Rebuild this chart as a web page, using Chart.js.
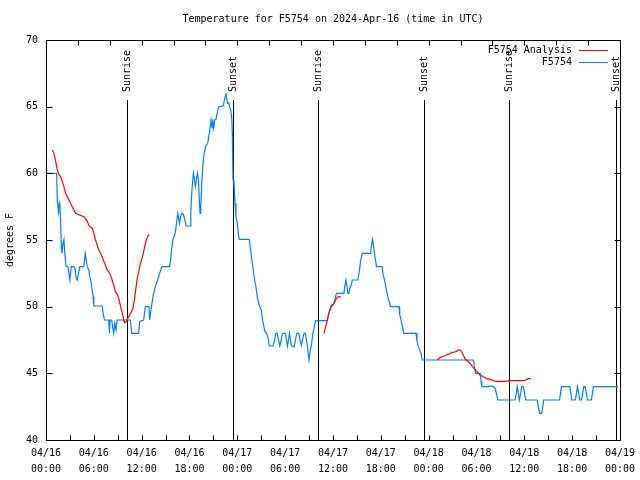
<!DOCTYPE html>
<html>
<head>
<meta charset="utf-8">
<title>Temperature for F5754</title>
<script src="https://cdn.jsdelivr.net/npm/chart.js"></script>
<style>
  body { margin: 0; background: #fff; }
  #wrap { width: 640px; height: 480px; }
</style>
</head>
<body>
<div id="wrap"><canvas id="tempChart" width="640" height="480"></canvas></div>
<script>
/* 데이터 (시간 = 2024-04-16 00:00 UTC 기준 경과 시간) */
const chartTitle = 'Temperature for F5754 on 2024-Apr-16 (time in UTC)';
const yTitle = 'degrees F';
const xStart = 0, xEnd = 72;
const yTickValues = [40, 45, 50, 55, 60, 65, 70];
const dayLabels = ['04/16', '04/17', '04/18', '04/19'];

// 관측값 F5754
const obsHours = [0.0, 1.33, 1.42, 1.58, 1.67, 1.75, 1.83, 1.92, 2.0, 2.125, 2.25, 2.33, 2.5, 2.75, 2.875, 3.0, 3.17, 3.5, 3.67, 3.79, 3.92, 4.08, 4.25, 4.75, 4.92, 5.04, 5.17, 5.375, 5.5, 5.67, 5.79, 5.92, 6.0, 7.04, 7.17, 7.33, 7.875, 7.96, 8.04, 8.25, 8.375, 8.5, 8.625, 8.79, 8.92, 10.58, 10.75, 11.625, 11.75, 12.25, 12.46, 12.92, 13.0, 13.17, 13.42, 13.71, 14.0, 14.25, 14.54, 15.5,
  15.625, 15.75, 15.92, 16.21, 16.42, 16.54, 16.75, 16.875, 17.04, 17.25, 17.42, 17.58, 18.08, 18.17, 18.25, 18.375, 18.5, 18.625, 18.75, 18.875, 19.0, 19.125, 19.25, 19.33, 19.42, 19.54, 19.67, 19.79, 19.92, 20.08, 20.29, 20.42, 20.54, 20.71, 20.83, 20.92, 21.04, 21.17, 21.33, 21.46, 21.67, 22.25, 22.375, 22.5, 22.58, 22.67, 22.79, 22.92, 23.04, 23.17, 23.29, 23.375, 23.42, 23.46, 23.58, 23.71, 23.83, 24.0, 24.125, 24.25, 25.5, 25.67, 25.83, 26.0, 26.17, 26.33, 26.5, 26.67, 26.83, 27.0, 27.17, 27.33, 27.5, 27.67, 27.83, 28.0, 28.5, 28.67, 28.83, 29.0, 29.17, 29.33, 29.5, 29.67, 30.0, 30.17, 30.29, 30.42, 30.54, 30.67, 30.79,
  31.125, 31.29, 31.46, 31.71, 31.875, 32.04, 32.21, 32.375, 32.54, 32.71, 32.875, 33.0, 33.125, 33.29, 33.46, 33.625, 33.83, 35.29, 35.46, 35.625, 35.79, 36.04, 36.21, 36.375, 36.46, 37.375, 37.5, 37.625, 37.75, 37.875, 38.0, 38.125, 38.29, 38.42, 39.125, 39.29, 39.46, 39.67, 40.71, 40.83, 40.96, 41.08, 41.21, 41.33, 41.46, 42.17, 42.29, 42.46, 42.625, 42.79, 43.0, 43.21, 44.29, 44.375, 44.54, 44.71, 44.875, 46.42, 46.54, 46.71, 46.875, 47.04, 47.21,
  53.625, 53.75, 53.92, 54.46, 54.58, 54.67, 55.5, 55.67, 56.125, 56.33, 56.5, 56.67, 58.83, 59.0, 59.125, 59.25, 59.375, 59.54, 59.67, 59.875, 60.04, 60.17, 61.625, 61.75, 61.92, 62.17, 62.33, 62.42, 64.42, 64.54, 64.67, 65.71, 65.83, 65.96, 66.42, 66.54, 66.67, 66.83, 66.96, 67.17, 67.33, 67.46, 67.625, 67.79, 67.92, 68.42, 68.54, 68.67, 71.75];
const obsTemps = [60.0, 60.0, 57.9, 57.1, 57.75, 57.5, 56.6, 54.5, 54.0, 54.75, 55.05, 54.25, 53.05, 53.0, 52.5, 52.0, 53.0, 53.0, 52.75, 52.1, 52.0, 52.5, 53.0, 53.0, 54.0, 53.5, 53.0, 52.75, 52.25, 51.75, 51.25, 50.75, 50.05, 50.05, 49.5, 49.0, 49.0, 48.0, 49.0, 49.0, 48.4, 48.0, 48.75, 48.25, 49.0, 49.0, 48.0, 48.0, 48.9, 49.0, 50.0, 50.0, 49.0, 49.75, 50.75, 51.5, 52.0, 52.5, 53.0, 53.0,
  53.5, 54.25, 55.0, 55.5, 56.5, 57.0, 56.25, 56.75, 57.0, 56.9, 56.5, 56.05, 56.05, 57.0, 58.25, 59.25, 60.0, 59.5, 59.0, 59.6, 60.0, 59.5, 57.75, 57.0, 57.5, 59.25, 60.5, 61.25, 61.75, 62.1, 62.25, 62.75, 63.25, 64.0, 63.4, 64.05, 63.4, 64.0, 64.05, 64.5, 65.0, 65.05, 65.5, 65.8, 66.05, 65.6, 65.25, 65.3, 65.0, 64.75, 64.25, 63.1, 61.0, 59.5, 59.25, 57.75, 56.75, 56.25, 55.5, 55.05, 55.05, 54.25, 53.5, 52.75, 52.0, 51.5, 50.75, 50.25, 50.0, 49.75, 49.0, 48.5, 48.1, 48.0, 47.75, 47.05, 47.05, 47.5, 48.0, 48.0, 47.5, 47.05, 47.5, 48.0, 48.0, 47.5, 47.05, 47.5, 48.0, 47.5, 47.05,
  47.0, 47.5, 48.0, 48.0, 47.5, 47.1, 47.6, 48.0, 48.0, 47.4, 46.6, 46.0, 46.6, 47.1, 47.9, 48.4, 48.95, 48.95, 49.4, 49.8, 50.1, 50.15, 50.4, 50.9, 51.0, 51.0, 51.6, 52.0, 51.5, 51.0, 51.0, 51.4, 51.6, 52.0, 52.0, 52.6, 53.4, 54.0, 54.0, 54.6, 55.05, 54.6, 54.0, 53.5, 53.0, 53.0, 52.4, 52.0, 51.5, 51.0, 50.5, 50.0, 50.0, 49.4, 49.0, 48.5, 48.0, 48.0, 47.4, 47.0, 46.75, 46.5, 46.0,
  46.0, 45.5, 45.0, 45.0, 44.4, 44.0, 44.0, 44.05, 44.0, 43.9, 43.5, 43.0, 43.0, 43.5, 44.0, 43.5, 43.0, 43.5, 44.0, 44.0, 43.5, 43.0, 43.0, 42.5, 42.0, 42.0, 42.5, 43.0, 43.0, 43.5, 44.0, 44.0, 43.5, 43.0, 43.0, 43.5, 44.0, 43.5, 43.0, 43.0, 43.5, 44.0, 44.0, 43.5, 43.0, 43.0, 43.5, 44.0, 44.0];

// 분석값 F5754 Analysis (null = 끊김)
const anaHours = [0.79, 1.0, 1.21, 1.42, 1.625, 1.83, 2.04, 2.25, 2.46, 2.67, 2.875, 3.08, 3.29, 3.5, 3.71, 3.92, 4.33, 4.75, 4.96, 5.17, 5.375, 5.58, 5.79, 6.0, 6.21, 6.42, 6.625, 6.83, 7.04, 7.25, 7.46, 7.67, 7.875, 8.08, 8.29, 8.5, 8.71, 8.92, 9.125, 9.33, 9.54, 9.75, 9.875, 10.08, 10.25, 10.5, 10.71, 10.92, 11.08, 11.25, 11.42, 11.625, 11.83, 12.04, 12.17, 12.375, 12.58, 12.79, 12.96,
  20.0,
  34.875, 35.08, 35.29, 35.46, 35.625, 35.79, 35.96, 36.125, 36.33, 36.54, 36.75, 36.96,
  42.0,
  49.04, 49.25, 49.46, 49.75, 50.0, 50.3, 50.6, 50.9, 51.25, 51.5, 51.75, 52.0, 52.2, 52.4, 52.6, 52.9, 53.2, 53.5, 53.8, 54.1, 54.4, 54.7, 55.0, 55.3, 55.7, 56.1, 56.5, 57.5, 58.2, 59.0, 59.9, 60.2, 60.5, 60.83];
const anaTemps = [61.75, 61.5, 60.9, 60.25, 59.9, 59.75, 59.4, 59.0, 58.5, 58.25, 58.0, 57.75, 57.5, 57.25, 57.0, 56.95, 56.85, 56.75, 56.6, 56.4, 56.1, 55.95, 55.9, 55.5, 55.0, 54.6, 54.25, 54.0, 53.75, 53.4, 53.1, 52.75, 52.6, 52.4, 52.0, 51.6, 51.1, 50.95, 50.6, 50.1, 49.6, 49.0, 48.8, 48.9, 49.1, 49.4, 49.6, 49.9, 50.5, 51.25, 52.0, 52.6, 53.25, 53.6, 53.9, 54.5, 55.0, 55.3, 55.4,
  null,
  48.0, 48.5, 49.0, 49.5, 49.75, 50.0, 50.1, 50.25, 50.5, 50.7, 50.75, 50.75,
  null,
  46.0, 46.1, 46.2, 46.25, 46.3, 46.4, 46.45, 46.55, 46.6, 46.65, 46.75, 46.75, 46.55, 46.3, 46.05, 45.9, 45.75, 45.5, 45.3, 45.1, 44.9, 44.8, 44.7, 44.6, 44.55, 44.45, 44.4, 44.4, 44.45, 44.45, 44.45, 44.5, 44.6, 44.6];

// 일출/일몰
const sunHours = [10.16, 23.41, 34.14, 47.43, 58.12, 71.45];
const sunLabels = ['Sunrise', 'Sunset', 'Sunrise', 'Sunset', 'Sunrise', 'Sunset'];

const FONT = '"DejaVu Sans Mono", "Liberation Mono", monospace';

function toPoints(xs, ys) {
  let pts = [];
  for (var i = 0; i < xs.length; i++) {
    pts.push({ x: xs[i], y: ys[i] });
  }
  return pts;
}

function px(v) { return Math.round(v) + 0.5; }

/* gnuplot 스타일 제목, 테두리, 안쪽 눈금, 일출/일몰선, 범례 */
const gnuplotDecor = {
  id: 'gnuplotDecor',
  beforeDatasetsDraw(chart) {
    const { ctx, chartArea: a, scales: { x } } = chart;
    ctx.save();
    ctx.strokeStyle = '#000';
    ctx.lineWidth = 1;
    ctx.fillStyle = '#000';
    ctx.font = '10px ' + FONT;

    // 제목 (플롯 영역 가운데)
    ctx.textAlign = 'center';
    ctx.textBaseline = 'middle';
    ctx.fillText(chartTitle, (a.left + a.right) / 2, a.top - 21);

    sunHours.forEach((h, i) => {
      const sx = px(x.getPixelForValue(h));
      ctx.beginPath();
      ctx.moveTo(sx, a.top + 60);
      ctx.lineTo(sx, a.bottom);
      ctx.stroke();
      ctx.save();
      ctx.translate(sx, a.top + 52);
      ctx.rotate(-Math.PI / 2);
      ctx.textAlign = 'left';
      ctx.textBaseline = 'middle';
      ctx.fillText(sunLabels[i], 0, 0);
      ctx.restore();
    });
    ctx.restore();
  },
  afterDraw(chart) {
    const { ctx, chartArea: a, scales: { x, y } } = chart;
    const L = px(a.left), R = px(a.right), T = px(a.top), B = px(a.bottom);
    ctx.save();
    ctx.strokeStyle = '#000';
    ctx.lineWidth = 1;
    ctx.strokeRect(L, T, R - L, B - T);

    ctx.beginPath();
    // 아래 눈금 (3시간), 위 눈금 (4시간)
    for (let h = xStart; h <= xEnd; h += 3) {
      const tx = px(x.getPixelForValue(h));
      ctx.moveTo(tx, B); ctx.lineTo(tx, B - 5);
    }
    for (let h = xStart; h <= xEnd; h += 4) {
      const tx = px(x.getPixelForValue(h));
      ctx.moveTo(tx, T); ctx.lineTo(tx, T + 5);
    }
    yTickValues.forEach(v => {
      const ty = px(y.getPixelForValue(v));
      ctx.moveTo(L, ty); ctx.lineTo(L + 6, ty);
      ctx.moveTo(R, ty); ctx.lineTo(R - 6, ty);
    });
    ctx.stroke();

    // 범례
    ctx.font = '10px ' + FONT;
    ctx.fillStyle = '#000';
    ctx.textAlign = 'right';
    ctx.textBaseline = 'middle';
    chart.data.datasets.forEach((ds, i) => {
      const ly = a.top + 10 + i * 12;
      ctx.fillText(ds.label, a.right - 48, ly);
      ctx.strokeStyle = ds.borderColor;
      ctx.beginPath();
      ctx.moveTo(a.right - 41, px(ly));
      ctx.lineTo(a.right - 12, px(ly));
      ctx.stroke();
    });
    ctx.restore();
  }
};

new Chart(document.getElementById('tempChart'), {
  type: 'line',
  data: {
    datasets: [{
      label: 'F5754 Analysis',
      data: toPoints(anaHours, anaTemps),
      borderColor: '#ff0000',
      borderWidth: 1.2,
      pointRadius: 0,
      tension: 0,
      spanGaps: false
    },
    {
      label: 'F5754',
      data: toPoints(obsHours, obsTemps),
      borderColor: '#0080ff',
      borderWidth: 1.2,
      pointRadius: 0,
      tension: 0
    }]
  },
  options: {
    responsive: false,
    animation: false,
    devicePixelRatio: 1,
    layout: { autoPadding: false, padding: { left: 0, right: 18, top: 40, bottom: 0 } },
    plugins: {
      legend: { display: false },
      tooltip: { enabled: false },
      title: { display: false }
    },
    scales: {
      x: {
        type: 'linear',
        min: xStart,
        max: xEnd,
        grid: { display: false, drawTicks: false },
        border: { display: false },
        afterFit: function(scale) { scale.height = 40; },
        ticks: {
          stepSize: 6,
          autoSkip: false,
          maxRotation: 0,
          padding: 5,
          color: '#000',
          font: { family: FONT, size: 10, lineHeight: 1.6 },
          callback: function(value) {
            let day = dayLabels[Math.floor(value / 24)];
            let hr = (value % 24).toString().padStart(2, '0');
            return [day, hr + ':00'];
          }
        }
      },
      y: {
        min: 40,
        max: 70,
        grid: { display: false, drawTicks: false },
        border: { display: false },
        afterFit: function(scale) { scale.width = 46; },
        title: {
          display: true,
          text: yTitle,
          color: '#000',
          font: { family: FONT, size: 10, lineHeight: 1.2 },
          padding: { top: 4, bottom: 4 }
        },
        ticks: {
          stepSize: 5,
          padding: 8,
          color: '#000',
          font: { family: FONT, size: 10 }
        }
      }
    }
  },
  plugins: [gnuplotDecor]
});
</script>
</body>
</html>
